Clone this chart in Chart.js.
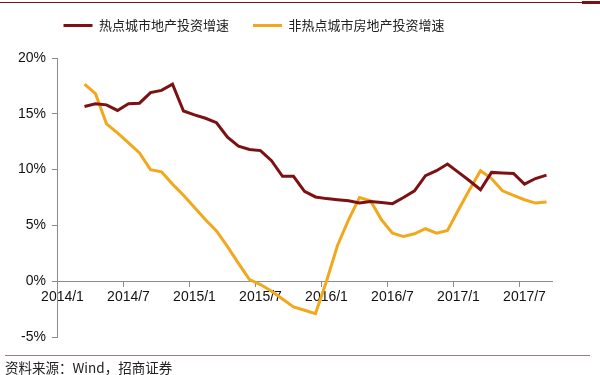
<!DOCTYPE html>
<html>
<head>
<meta charset="utf-8">
<script src="https://cdn.jsdelivr.net/npm/chart.js@4"></script>
<style>
  body { margin: 0; background: #fff; }
  #wrap { position: relative; width: 600px; height: 375px; overflow: hidden; }
  #topRule { position: absolute; left: 0; top: 2px; width: 600px; height: 1px; background: #7b1113; }
  #topTab { position: absolute; left: 582px; top: 1px; width: 18px; height: 3px; background: #7b1113; }
  #bottomRule { position: absolute; left: 5px; top: 355px; width: 585px; height: 1px; background: #9a7f80; }
  #source { position: absolute; left: 5px; top: 357px; font: 13.5px "Noto Sans CJK SC", sans-serif; color: #222; white-space: nowrap; }
  canvas { position: absolute; left: 0; top: 0; }
</style>
</head>
<body>
<div id="wrap">
  <canvas id="dataChart" width="600" height="375"></canvas>
  <div id="topRule"></div>
  <div id="topTab"></div>
  <div id="bottomRule"></div>
  <div id="source">资料来源：Wind，招商证券</div>
</div>
<script>
// months 2014/1 .. 2017/9
const months = [];
for (let y = 2014; y <= 2017; y++) {
    for (let m = 1; m <= 12; m++) {
        if (y === 2017 && m > 9) break;
        months.push(y + '/' + m);
    }
}

const hotCities = [null, null,
    15.65, 15.9, 15.8, 15.3, 15.9, 15.95, 16.9, 17.1, 17.65, 15.25,
    14.9, 14.6, 14.2, 12.9, 12.1, 11.8, 11.7, 10.8, 9.4, 9.4,
    8.05, 7.55, 7.4, 7.3, 7.2, 7.0, 7.15, 7.05, 6.95, 7.5,
    8.1, 9.45, 9.9, 10.5, 9.75, 9.0, 8.2, 9.75, 9.7, 9.65,
    8.7, 9.2, 9.5];

const otherCities = [null, null,
    17.65, 16.8, 14.1, 13.3, 12.4, 11.5, 10.0, 9.8, 8.7, 7.7,
    6.6, 5.5, 4.5, 3.1, 1.6, 0.15, -0.3, -0.9, -1.6, -2.3,
    -2.6, -2.9, 0.0, 3.2, 5.5, 7.5, 7.2, 5.5, 4.3, 4.0,
    4.25, 4.7, 4.3, 4.55, 6.4, 8.2, 9.9, 9.2, 8.1, 7.7,
    7.3, 7.0, 7.1];

const hotColor = '#7b1113';
const otherColor = '#f2a81d';
const axisColor = '#8c8c8c';

const ctx = document.getElementById('dataChart').getContext('2d');

// nudge the legend up/left to where the original sits
const legendShift = {
    id: 'legendShift',
    afterUpdate(chart) {
        const lg = chart.legend;
        lg.left -= 22;
        lg.right -= 22;
        lg.top -= 16;
        lg.bottom -= 16;
    }
};

new Chart(ctx, {
    type: 'line',
    data: {
        labels: months,
        datasets: [{
            label: '热点城市地产投资增速',
            data: hotCities,
            borderColor: hotColor,
            backgroundColor: hotColor,
            borderWidth: 3,
            pointRadius: 0,
            tension: 0,
            fill: false
        }, {
            label: '非热点城市房地产投资增速',
            data: otherCities,
            borderColor: otherColor,
            backgroundColor: otherColor,
            borderWidth: 3,
            pointRadius: 0,
            tension: 0,
            fill: false
        }]
    },
    options: {
        responsive: false,
        animation: false,
        layout: {
            padding: { left: 0, right: 48, top: 11, bottom: 38 }
        },
        plugins: {
            legend: {
                position: 'top',
                labels: {
                    boxWidth: 29,
                    boxHeight: 3,
                    padding: 24,
                    color: '#222',
                    font: { family: '"Noto Sans CJK SC"', size: 13 },
                    generateLabels(chart) {
                        return chart.data.datasets.map((ds, i) => ({
                            text: ds.label,
                            fillStyle: ds.borderColor,
                            strokeStyle: ds.borderColor,
                            lineWidth: 0,
                            fontColor: '#222',
                            datasetIndex: i
                        }));
                    }
                }
            },
            tooltip: { enabled: false }
        },
        scales: {
            x: {
                type: 'category',
                position: { y: 0 },
                offset: true,
                border: { color: axisColor, width: 1 },
                grid: {
                    offset: true,
                    drawOnChartArea: false,
                    tickLength: 5,
                    tickColor: (c) => c.index % 6 === 0 ? axisColor : 'rgba(0,0,0,0)'
                },
                ticks: {
                    autoSkip: false,
                    maxRotation: 0,
                    padding: 3,
                    color: '#111',
                    font: { family: '"Liberation Sans", Arial', size: 14 },
                    callback: (v, i) => i % 6 === 0 ? months[i] : ''
                }
            },
            y: {
                min: -5,
                max: 20,
                border: { color: axisColor, width: 1 },
                grid: {
                    drawOnChartArea: false,
                    tickLength: 5,
                    tickColor: axisColor
                },
                ticks: {
                    stepSize: 5,
                    padding: 6,
                    color: '#111',
                    font: { family: '"Liberation Sans", Arial', size: 14 },
                    callback: (v) => v + '%'
                },
                afterFit(scale) {
                    scale.width = 57;
                }
            }
        }
    },
    plugins: [legendShift]
});
</script>
</body>
</html>
